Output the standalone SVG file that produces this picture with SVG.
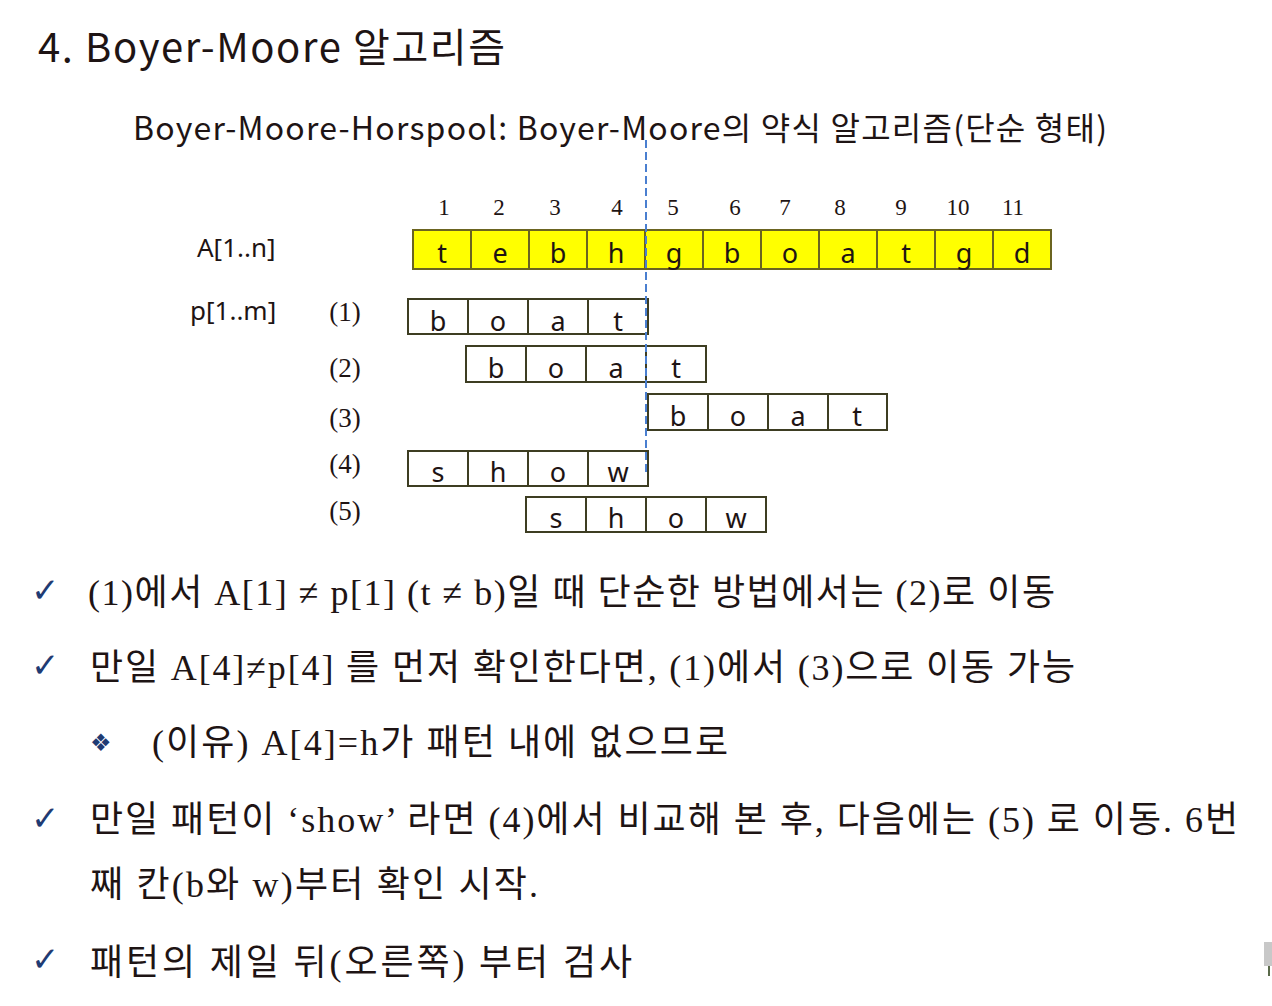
<svg xmlns="http://www.w3.org/2000/svg" width="1272" height="1006" viewBox="0 0 1272 1006">
<style>
.title{font-family:"Noto Sans CJK KR","Noto Sans",sans-serif;font-size:40px;fill:#1e1414}
.sub{font-family:"Noto Sans CJK KR","Noto Sans",sans-serif;font-size:32px;fill:#1e1414}
.num{font-family:"Liberation Serif","Noto Sans CJK KR",serif;font-size:23px;fill:#1e1414;text-anchor:middle}
.lbl{font-family:"Liberation Serif",serif;font-size:27px;fill:#1e1414;text-anchor:middle}
.side{font-family:"Noto Sans","Liberation Sans",sans-serif;font-size:26px;fill:#1e1414}
.cell{font-family:"Noto Sans","Liberation Sans",sans-serif;font-size:27px;fill:#1e1414;text-anchor:middle}
.body{font-family:"Liberation Serif","Noto Sans CJK KR",serif;font-size:36px;fill:#1e1414}
.chk{font-family:"DejaVu Sans",sans-serif;font-size:34px;fill:#1f3b73}
.ybox{fill:#ffff00;stroke:#6b6420;stroke-width:2}
.pbox{fill:#ffffff;stroke:#3d3d22;stroke-width:2}
.sep{stroke:#3d3d22;stroke-width:2}
.ysep{stroke:#6b6420;stroke-width:2}
</style>
<rect width="1272" height="1006" fill="#ffffff"/>

<g id="title"><text class="title" x="38" y="62" textLength="467">4. Boyer-Moore 알고리즘</text></g>
<g id="subtitle"><text class="sub" x="133" y="140" textLength="974">Boyer-Moore-Horspool: Boyer-Moore의 약식 알고리즘(단순 형태)</text></g>

<g id="indices">
<text class="num" x="444" y="215">1</text>
<text class="num" x="499" y="215">2</text>
<text class="num" x="555" y="215">3</text>
<text class="num" x="617" y="215">4</text>
<text class="num" x="673" y="215">5</text>
<text class="num" x="735" y="215">6</text>
<text class="num" x="785" y="215">7</text>
<text class="num" x="840" y="215">8</text>
<text class="num" x="901" y="215">9</text>
<text class="num" x="958" y="215">10</text>
<text class="num" x="1013" y="215">11</text>
</g>

<g id="labelA"><text class="side" x="197" y="257">A[1..n]</text></g>
<g id="labelP"><text class="side" x="190" y="320">p[1..m]</text></g>

<g id="arrayA">
<rect class="ybox" x="413" y="230" width="638" height="39"/>
<line class="ysep" x1="471" y1="230" x2="471" y2="269"/>
<line class="ysep" x1="529" y1="230" x2="529" y2="269"/>
<line class="ysep" x1="587" y1="230" x2="587" y2="269"/>
<line class="ysep" x1="645" y1="230" x2="645" y2="269"/>
<line class="ysep" x1="703" y1="230" x2="703" y2="269"/>
<line class="ysep" x1="761" y1="230" x2="761" y2="269"/>
<line class="ysep" x1="819" y1="230" x2="819" y2="269"/>
<line class="ysep" x1="877" y1="230" x2="877" y2="269"/>
<line class="ysep" x1="935" y1="230" x2="935" y2="269"/>
<line class="ysep" x1="993" y1="230" x2="993" y2="269"/>
<text class="cell" x="442" y="263">t</text>
<text class="cell" x="500" y="263">e</text>
<text class="cell" x="558" y="263">b</text>
<text class="cell" x="616" y="263">h</text>
<text class="cell" x="674" y="263">g</text>
<text class="cell" x="732" y="263">b</text>
<text class="cell" x="790" y="263">o</text>
<text class="cell" x="848" y="263">a</text>
<text class="cell" x="906" y="263">t</text>
<text class="cell" x="964" y="263">g</text>
<text class="cell" x="1022" y="263">d</text>
</g>

<g id="row1">
<text class="lbl" x="345" y="321">(1)</text>
<rect class="pbox" x="408" y="299" width="240" height="35"/>
<line class="sep" x1="468" y1="299" x2="468" y2="334"/>
<line class="sep" x1="528" y1="299" x2="528" y2="334"/>
<line class="sep" x1="588" y1="299" x2="588" y2="334"/>
<text class="cell" x="438" y="331">b</text>
<text class="cell" x="498" y="331">o</text>
<text class="cell" x="558" y="331">a</text>
<text class="cell" x="618" y="331">t</text>
</g>

<g id="row2">
<text class="lbl" x="345" y="377">(2)</text>
<rect class="pbox" x="466" y="346" width="240" height="36"/>
<line class="sep" x1="526" y1="346" x2="526" y2="382"/>
<line class="sep" x1="586" y1="346" x2="586" y2="382"/>
<line class="sep" x1="646" y1="346" x2="646" y2="382"/>
<text class="cell" x="496" y="378">b</text>
<text class="cell" x="556" y="378">o</text>
<text class="cell" x="616" y="378">a</text>
<text class="cell" x="676" y="378">t</text>
</g>

<g id="row3">
<text class="lbl" x="345" y="427">(3)</text>
<rect class="pbox" x="648" y="394" width="239" height="36"/>
<line class="sep" x1="708" y1="394" x2="708" y2="430"/>
<line class="sep" x1="768" y1="394" x2="768" y2="430"/>
<line class="sep" x1="828" y1="394" x2="828" y2="430"/>
<text class="cell" x="678" y="426">b</text>
<text class="cell" x="738" y="426">o</text>
<text class="cell" x="798" y="426">a</text>
<text class="cell" x="857" y="426">t</text>
</g>

<g id="row4">
<text class="lbl" x="345" y="473">(4)</text>
<rect class="pbox" x="408" y="451" width="240" height="35"/>
<line class="sep" x1="468" y1="451" x2="468" y2="486"/>
<line class="sep" x1="528" y1="451" x2="528" y2="486"/>
<line class="sep" x1="588" y1="451" x2="588" y2="486"/>
<text class="cell" x="438" y="482">s</text>
<text class="cell" x="498" y="482">h</text>
<text class="cell" x="558" y="482">o</text>
<text class="cell" x="618" y="482">w</text>
</g>

<g id="row5">
<text class="lbl" x="345" y="520">(5)</text>
<rect class="pbox" x="526" y="497" width="240" height="35"/>
<line class="sep" x1="586" y1="497" x2="586" y2="532"/>
<line class="sep" x1="646" y1="497" x2="646" y2="532"/>
<line class="sep" x1="706" y1="497" x2="706" y2="532"/>
<text class="cell" x="556" y="528">s</text>
<text class="cell" x="616" y="528">h</text>
<text class="cell" x="676" y="528">o</text>
<text class="cell" x="736" y="528">w</text>
</g>

<g id="connectors">
<line x1="646" y1="140" x2="646" y2="472" stroke="#4a7fd0" stroke-width="2" stroke-dasharray="8,4"/>
</g>

<g id="bullets">
<text class="chk" x="31" y="602">✓</text>
<text class="body" x="88" y="605" textLength="967">(1)에서 A[1] ≠ p[1] (t ≠ b)일 때 단순한 방법에서는 (2)로 이동</text>
<text class="chk" x="31" y="677">✓</text>
<text class="body" x="90" y="680" textLength="985">만일 A[4]≠p[4] 를 먼저 확인한다면, (1)에서 (3)으로 이동 가능</text>
<text class="chk" x="90" y="751" style="font-size:24px">❖</text>
<text class="body" x="152" y="755" textLength="576">(이유) A[4]=h가 패턴 내에 없으므로</text>
<text class="chk" x="31" y="830">✓</text>
<text class="body" x="90" y="832" textLength="1148">만일 패턴이 ‘show’ 라면 (4)에서 비교해 본 후, 다음에는 (5) 로 이동. 6번</text>
<text class="body" x="90" y="897" textLength="448">째 칸(b와 w)부터 확인 시작.</text>
<text class="chk" x="31" y="971">✓</text>
<text class="body" x="90" y="975" textLength="542">패턴의 제일 뒤(오른쪽) 부터 검사</text>
</g>

<g id="corner">
<rect x="1264" y="942" width="8" height="24" fill="#c8c8c8"/>
<rect x="1268" y="966" width="2" height="10" fill="#5a6a4a"/>
</g>
</svg>
